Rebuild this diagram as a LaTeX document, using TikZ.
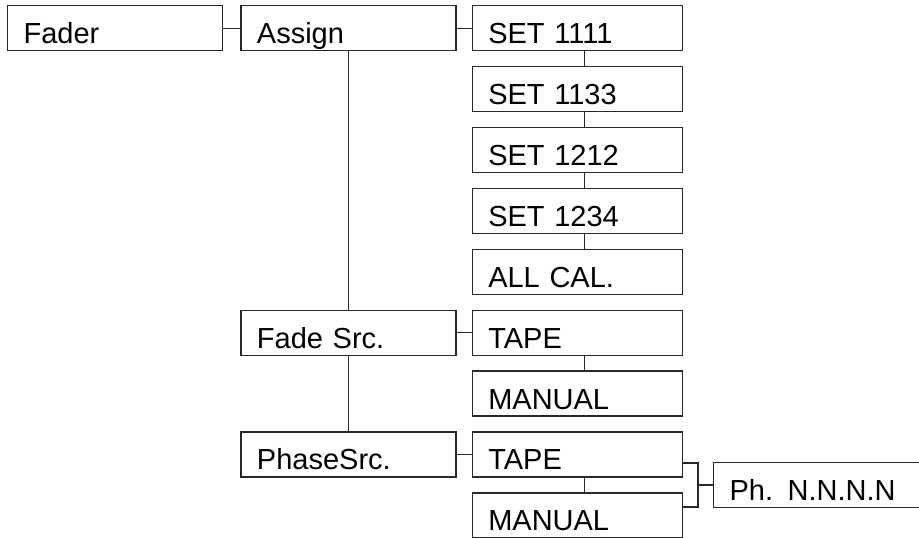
\documentclass[tikz,border=0pt]{standalone}
\usepackage{fontspec}
\setmainfont{Liberation Sans}
\usetikzlibrary{positioning,calc}
\definecolor{inkgray}{RGB}{40,40,40}

\begin{document}
\begin{tikzpicture}[x=1pt,y=1pt,
    box/.style={draw=inkgray,line width=1.3pt,minimum height=45pt,
      text width=183pt,inner xsep=16pt,inner ysep=0pt,
      text height=31pt,text depth=0pt,align=left,
      font=\fontsize{29}{34}\selectfont},
    choice/.style={box,text width=178pt},
    link/.style={draw=inkgray,line width=1.3pt}
  ]
    \useasboundingbox (0,0) rectangle (919,-538);
    % first level
    \node[box,anchor=north west] (fader) at (7,-5) {Fader};
    \node[box,right=17pt of fader] (assign) {Assign};
    % assign choices
    \node[choice,right=15pt of assign] (set1) {SET 1111};
    \node[choice,below=14.6pt of set1] (set2) {SET 1133};
    \node[choice,below=14.6pt of set2] (set3) {SET 1212};
    \node[choice,below=14.6pt of set3] (set4) {SET 1234};
    \node[choice,below=14.6pt of set4] (allcal) {ALL CAL.};
    % fade source
    \node[choice,below=14.6pt of allcal] (ftape) {TAPE};
    \node[box,left=15pt of ftape] (fade) {Fade Src.};
    \node[choice,below=14.6pt of ftape] (fman) {MANUAL};
    % phase source
    \node[choice,below=14.6pt of fman] (ptape) {TAPE};
    \node[box,left=15pt of ptape] (phase) {PhaseSrc.};
    \node[choice,below=14.6pt of ptape] (pman) {MANUAL};
    \coordinate (join) at ($(ptape.south east)!0.5!(pman.north east)+(15,0)$);
    \node[box,text width=190pt,anchor=west] (ph) at ($(join)+(15,0)$) {Ph. N.N.N.N};

    \draw[link] (fader) -- (assign);
    \draw[link] (assign.east) -- (assign.east -| set1.west);
    \draw[link] (assign) -- (fade);
    \draw[link] (fade) -- (phase);
    \draw[link] (fade) -- (ftape);
    \draw[link] (phase) -- (ptape);
    \draw[link] ([xshift=7pt]set1.south) -- ([xshift=7pt]set2.north);
    \draw[link] ([xshift=7pt]set2.south) -- ([xshift=7pt]set3.north);
    \draw[link] ([xshift=7pt]set3.south) -- ([xshift=7pt]set4.north);
    \draw[link] ([xshift=7pt]set4.south) -- ([xshift=7pt]allcal.north);
    \draw[link] ([xshift=7pt]ftape.south) -- ([xshift=7pt]fman.north);
    \draw[link] ([xshift=7pt]ptape.south) -- ([xshift=7pt]pman.north);
    \draw[link] ([yshift=-22pt]join -| ptape.east) -| (join)
      |- ([yshift=22pt]join -| pman.east);
    \draw[link] (join) -- (ph);
  \end{tikzpicture}
\end{document}
